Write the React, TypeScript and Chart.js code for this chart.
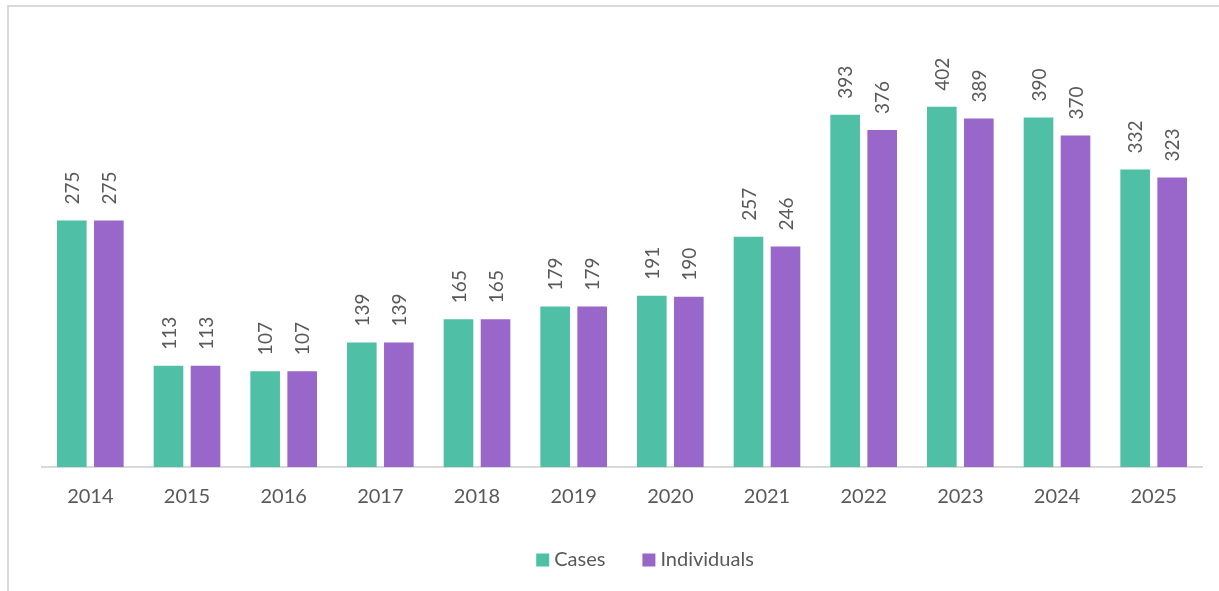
import React, { useEffect, useRef } from "react";
import { Chart, registerables } from "chart.js";

Chart.register(...registerables);

const years = ["2014", "2015", "2016", "2017", "2018", "2019", "2020", "2021", "2022", "2023", "2024", "2025"];
const cases = [275, 113, 107, 139, 165, 179, 191, 257, 393, 402, 390, 332];
const individuals = [275, 113, 107, 139, 165, 179, 190, 246, 376, 389, 370, 323];
const seriesNames = ["Cases", "Individuals"];
const seriesColors = ["#4FBFA5", "#9966C9"];

const FONT = "Lato, 'Open Sans', sans-serif";
const TEXT = "#595959";

const labelPlugin = {
  id: "barLabels",
  afterDatasetsDraw(chart: any) {
    const ctx = chart.ctx;
    ctx.save();
    ctx.font = `19px ${FONT}`;
    ctx.fillStyle = TEXT;
    ctx.textAlign = "left";
    ctx.textBaseline = "middle";
    chart.data.datasets.forEach((ds: any, di: number) => {
      const meta = chart.getDatasetMeta(di);
      meta.data.forEach((el: any, i: number) => {
        ctx.save();
        ctx.translate(el.x + 1, el.y - 16);
        ctx.rotate(-Math.PI / 2);
        ctx.fillText(String(ds.data[i]), 0, 0);
        ctx.restore();
      });
    });
    ctx.restore();
  },
};

const legendPlugin = {
  id: "customLegend",
  afterDraw(chart: any) {
    const ctx = chart.ctx;
    ctx.save();
    ctx.font = `20px ${FONT}`;
    const box = 13;
    const gap = 5;
    const spacing = 37;
    const widths = seriesNames.map((n) => ctx.measureText(n).width);
    const total = widths.reduce((a, w) => a + box + gap + w, 0) + spacing * (seriesNames.length - 1);
    let x = 645 - total / 2;
    const cy = 560;
    seriesNames.forEach((n, i) => {
      ctx.fillStyle = seriesColors[i];
      ctx.fillRect(x, cy - box / 2, box, box);
      x += box + gap;
      ctx.fillStyle = TEXT;
      ctx.textAlign = "left";
      ctx.textBaseline = "middle";
      ctx.fillText(n, x, cy);
      x += widths[i] + spacing;
    });
    ctx.restore();
  },
};

export default function App() {
  const ref = useRef<HTMLCanvasElement>(null);
  useEffect(() => {
    document.body.style.margin = "0";
    const chart = new Chart(ref.current!, {
      type: "bar",
      data: {
        labels: years,
        datasets: [
          { label: seriesNames[0], data: cases, backgroundColor: seriesColors[0], categoryPercentage: 0.766, barPercentage: 0.8 },
          { label: seriesNames[1], data: individuals, backgroundColor: seriesColors[1], categoryPercentage: 0.766, barPercentage: 0.8 },
        ],
      },
      options: {
        responsive: false,
        animation: false,
        layout: { padding: { left: 42, right: 17, top: 19, bottom: 64 } },
        plugins: { legend: { display: false }, tooltip: { enabled: false } },
        scales: {
          x: {
            grid: { display: false, drawTicks: false },
            border: { display: true, color: "#d9d9d9", width: 2 },
            ticks: { color: TEXT, font: { family: FONT, size: 20 }, padding: 18 },
            afterFit: (s: any) => {
              s.height = 60;
            },
          },
          y: { display: false, min: 0, max: 500 },
        },
      },
      plugins: [labelPlugin, legendPlugin],
    });
    return () => chart.destroy();
  }, []);
  return (
    <div style={{ position: "relative", width: 1219, height: 591, overflow: "hidden", background: "#fff" }}>
      <div
        style={{
          position: "absolute",
          left: 7,
          top: 5,
          width: 1400,
          height: 800,
          borderLeft: "2px solid #d9d9d9",
          borderTop: "2px solid #d9d9d9",
        }}
      />
      <canvas ref={ref} width={1219} height={591} style={{ position: "absolute", left: 0, top: 0 }} />
    </div>
  );
}
